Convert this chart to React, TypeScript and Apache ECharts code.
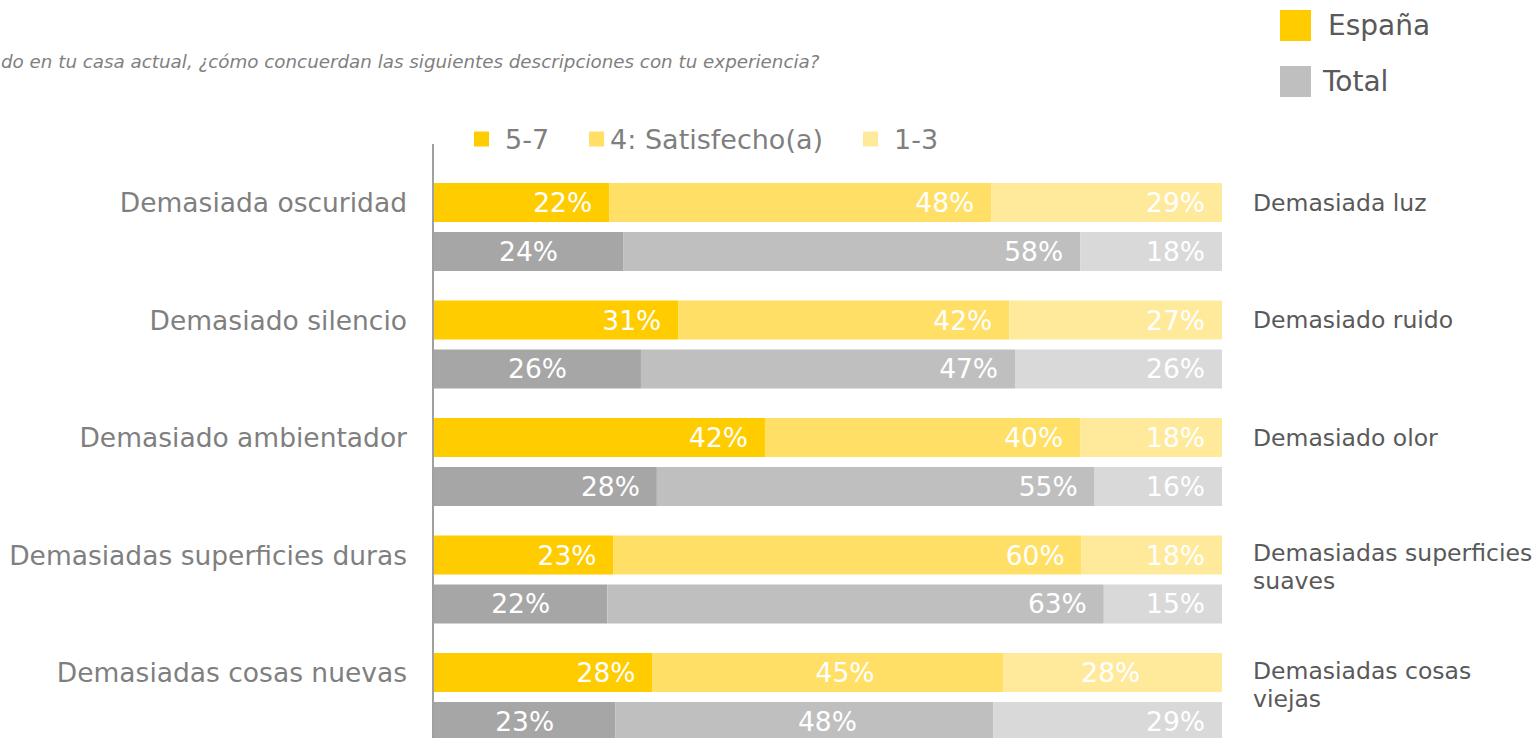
import React, { useEffect, useRef } from 'react';
import * as echarts from 'echarts';

// ---- data ----
const leftCategories = [
  'Demasiada oscuridad',
  'Demasiado silencio',
  'Demasiado ambientador',
  'Demasiadas superficies duras',
  'Demasiadas cosas nuevas',
];
const rightCategories = [
  'Demasiada luz',
  'Demasiado ruido',
  'Demasiado olor',
  'Demasiadas superficies\nsuaves',
  'Demasiadas cosas\nviejas',
];
const levelNames = ['5-7', '4: Satisfecho(a)', '1-3'];
const groupNames = ['España', 'Total'];

const espana57 = [22, 31, 42, 23, 28];
const espana4 = [48, 42, 40, 60, 45];
const espana13 = [29, 27, 18, 18, 28];

const total57 = [24, 26, 28, 22, 23];
const total4 = [58, 47, 55, 63, 48];
const total13 = [18, 26, 16, 15, 29];

const titleText =
  'do en tu casa actual, ¿cómo concuerdan las siguientes descripciones con tu experiencia?';

// ---- styles ----
const FONT = '"DejaVu Sans", Verdana, sans-serif';
const espColors = ['#FFCC00', '#FFDF66', '#FFEA9C'];
const totColors = ['#A6A6A6', '#BFBFBF', '#D9D9D9'];

// label placement per cell: 'R' = inside right, number = centred with x offset
const espPlacement: (string | number)[][] = [
  ['R', 'R', 'R', 'R', 'R'],
  ['R', 'R', 'R', 'R', 17],
  ['R', 'R', 'R', 'R', -2],
];
const totPlacement: (string | number)[][] = [
  [0, 0, 'R', 0, 0],
  ['R', 'R', 'R', 'R', 23],
  ['R', 'R', 'R', 'R', 'R'],
];

function placementLabel(p: string | number) {
  if (p === 'R') return { position: 'insideRight', distance: 17 };
  return { position: 'inside', offset: [p as number, 0] };
}

function buildStack(
  stack: string,
  names: string[],
  parts: number[][],
  colors: string[],
  placement: (string | number)[][]
) {
  const sums = parts[0].map((_, i) => parts.reduce((s, arr) => s + arr[i], 0));
  return parts.map((arr, k) => ({
    type: 'bar',
    name: names[k],
    stack,
    barWidth: 39,
    barGap: '25.6%',
    yAxisIndex: 0,
    xAxisIndex: 0,
    itemStyle: { color: colors[k] },
    label: {
      show: true,
      color: '#ffffff',
      fontSize: 26.5,
      fontFamily: FONT,
      formatter: (p: any) => arr[p.dataIndex] + '%',
    },
    data: arr.map((v, i) => ({
      value: (v / sums[i]) * 100,
      label: placementLabel(placement[k][i]),
    })),
  }));
}

export default function App() {
  const ref = useRef<HTMLDivElement>(null);

  useEffect(() => {
    if (!ref.current) return;
    const chart = echarts.init(ref.current, undefined, { renderer: 'svg' });

    const espSeries = buildStack(
      'esp',
      levelNames,
      [espana57, espana4, espana13],
      espColors,
      espPlacement
    );
    const totSeries = buildStack(
      'tot',
      levelNames.map((n) => 'Total ' + n),
      [total57, total4, total13],
      totColors,
      totPlacement
    );

    const option: any = {
      animation: false,
      backgroundColor: '#ffffff',
      textStyle: { fontFamily: FONT },
      grid: { left: 434, width: 788, top: 168.25, height: 587.5, containLabel: false },
      xAxis: { type: 'value', min: 0, max: 100, show: false },
      yAxis: [
        {
          type: 'category',
          inverse: true,
          data: leftCategories,
          axisLine: { show: false },
          axisTick: { show: false },
          splitLine: { show: false },
          axisLabel: {
            interval: 0,
            margin: 27,
            formatter: (v: string) => '{t|' + v + '}\n{s| }',
            rich: {
              t: { fontSize: 26.5, lineHeight: 32, fontFamily: FONT, color: '#7F7F7F' },
              s: { fontSize: 10, lineHeight: 49 },
            },
          },
        },
        {
          type: 'category',
          position: 'right',
          inverse: true,
          data: rightCategories,
          axisLine: { show: false },
          axisTick: { show: false },
          splitLine: { show: false },
          axisLabel: {
            interval: 0,
            margin: 31,
            align: 'left',
            formatter: (v: string) => {
              const lines = v.split('\n');
              return (
                lines.map((l) => '{t|' + l + '}').join('\n') +
                '\n{' + (lines.length > 1 ? 's2' : 's1') + '| }'
              );
            },
            rich: {
              t: { fontSize: 23.5, lineHeight: 28, fontFamily: FONT, color: '#595959', align: 'left' },
              s1: { fontSize: 10, lineHeight: 49 },
              s2: { fontSize: 10, lineHeight: 25 },
            },
          },
        },
      ],
      legend: [
        {
          data: [
            { name: levelNames[0], textStyle: { padding: [0, 0, 0, 11] } },
            { name: levelNames[1], textStyle: { padding: [0, 0, 0, 1] } },
            { name: levelNames[2], textStyle: { padding: [0, 0, 0, 11] } },
          ],
          left: 474,
          top: 123,
          padding: 0,
          icon: 'rect',
          itemWidth: 15,
          itemHeight: 15,
          itemGap: 40,
          selectedMode: false,
          textStyle: { fontSize: 27, lineHeight: 32, color: '#7F7F7F', fontFamily: FONT },
        },
        {
          data: [
            { name: groupNames[0], textStyle: { padding: [0, 0, 0, 12] } },
            { name: groupNames[1], textStyle: { padding: [0, 0, 0, 7] } },
          ],
          orient: 'vertical',
          left: 1280,
          top: 10,
          padding: 0,
          icon: 'rect',
          itemWidth: 31,
          itemHeight: 31,
          itemGap: 25,
          selectedMode: false,
          textStyle: { fontSize: 28, lineHeight: 31, color: '#595959', fontFamily: FONT },
        },
      ],
      graphic: [
        {
          type: 'text',
          x: 1,
          y: 61,
          style: {
            text: titleText,
            align: 'left',
            verticalAlign: 'middle',
            font: 'italic 18.3px "DejaVu Sans", Verdana, sans-serif',
            fill: '#7F7F7F',
          },
        },
        {
          type: 'line',
          shape: { x1: 433, y1: 144, x2: 433, y2: 760 },
          style: { stroke: '#808080', lineWidth: 1.5 },
        },
      ],
      series: [
        ...espSeries,
        ...totSeries,
        { type: 'line', name: groupNames[0], data: [], itemStyle: { color: espColors[0] } },
        { type: 'line', name: groupNames[1], data: [], itemStyle: { color: totColors[1] } },
      ],
    };

    chart.setOption(option);
    return () => chart.dispose();
  }, []);

  return (
    <div
      style={{
        position: 'absolute',
        left: 0,
        top: 0,
        width: 1538,
        height: 738,
        overflow: 'hidden',
      }}
    >
      <div ref={ref} style={{ width: 1538, height: 760 }} />
    </div>
  );
}
